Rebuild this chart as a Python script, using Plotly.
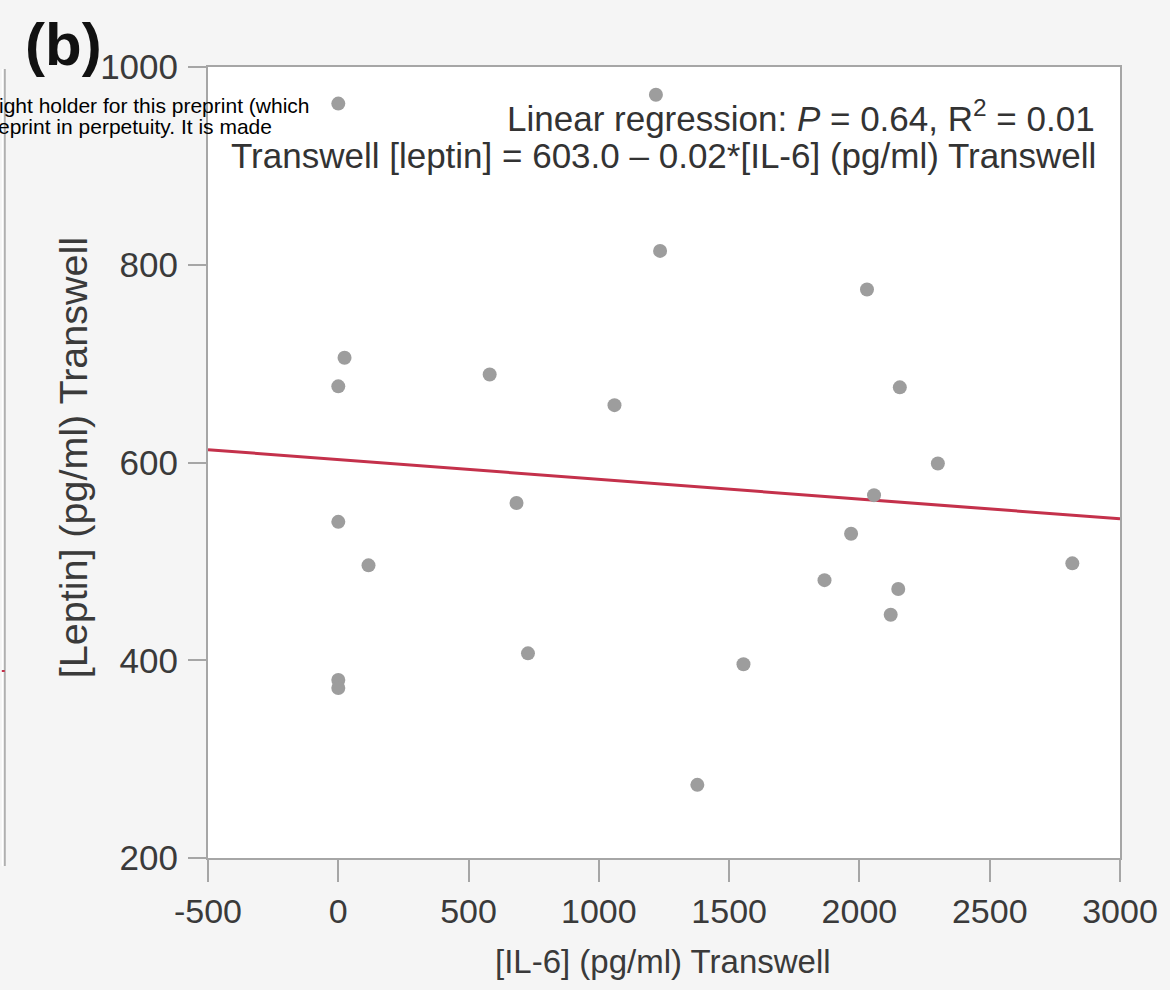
import plotly.graph_objects as go

# ---- data ----
il6 = [0, 1219, 24, 0, 581, 1235, 2029, 1060, 2155, 2301, 684, 2056,
       0, 116, 1968, 1866, 2817, 2149, 2120, 728, 1555, 0, 0, 1378]
leptin = [963, 972, 706, 677, 689, 814, 775, 658, 676, 599, 559, 567,
          540, 496, 528, 481, 498, 472, 446, 407, 396, 380, 372, 274]
fit_intercept = 603.0
fit_slope = -0.02
fit_x = [-500, 3000]
x_ticks = [-500, 0, 500, 1000, 1500, 2000, 2500, 3000]
y_ticks = [200, 400, 600, 800, 1000]

W, H = 1170, 990
L, R, T, B = 208, 1128, 67, 858


def px(x):
    return (x - L) / (R - L)


def py(y):
    return (B - y) / (B - T)


fig = go.Figure()
fig.add_trace(go.Scatter(
    x=fit_x, y=[fit_intercept + fit_slope * v for v in fit_x],
    mode="lines", line=dict(color="#c4314b", width=3), showlegend=False,
    hoverinfo="skip"))
fig.add_trace(go.Scatter(
    x=il6, y=leptin, mode="markers",
    marker=dict(color="#9d9d9d", size=14), showlegend=False))

axis_common = dict(showline=True, mirror=True, linecolor="#a6a6a6", linewidth=2,
                   ticks="outside", tickcolor="#a6a6a6", tickwidth=2,
                   showgrid=False, zeroline=False)

fig.update_xaxes(range=[-500, 3000], tickvals=x_ticks,
                 ticktext=[str(v) for v in x_ticks], ticklen=22,
                 tickfont=dict(family="Liberation Sans, Arial", size=34, color="#3a3a3a"),
                 **axis_common)
fig.update_yaxes(range=[200, 1000], tickvals=y_ticks,
                 ticktext=[str(v) for v in y_ticks], ticklen=18,
                 ticklabelstandoff=3,
                 tickfont=dict(family="Liberation Sans, Arial", size=35, color="#3a3a3a"),
                 **axis_common)

ann = []
ann.append(dict(text="Linear regression: <i>P</i> = 0.64, R<sup>2</sup> = 0.01",
                x=px(1105), y=py(116), xref="paper", yref="paper",
                xanchor="right", yanchor="middle", showarrow=False,
                font=dict(family="Liberation Sans, Arial", size=35, color="#333333")))
ann.append(dict(text="Transwell [leptin] = 603.0 \u2013 0.02*[IL-6] (pg/ml) Transwell",
                x=px(1106), y=py(156), xref="paper", yref="paper",
                xanchor="right", yanchor="middle", showarrow=False,
                font=dict(family="Liberation Sans, Arial", size=35, color="#333333")))
ann.append(dict(text="[IL-6] (pg/ml) Transwell",
                x=px(667), y=py(961), xref="paper", yref="paper",
                xanchor="center", yanchor="middle", showarrow=False,
                font=dict(family="Liberation Sans, Arial", size=33, color="#3a3a3a")))
ann.append(dict(text="[Leptin] (pg/ml) Transwell", textangle=-90,
                x=px(72), y=py(458), xref="paper", yref="paper",
                xanchor="center", yanchor="middle", showarrow=False,
                font=dict(family="Liberation Sans, Arial", size=39.5, color="#3a3a3a")))
ann.append(dict(text="<b>(b)</b>",
                x=px(62), y=py(44), xref="paper", yref="paper",
                xanchor="center", yanchor="middle", showarrow=False,
                font=dict(family="Liberation Sans, Arial", size=60, color="#111111")))
ann.append(dict(text="ight holder for this preprint (which",
                x=px(312), y=py(105), xref="paper", yref="paper",
                xanchor="right", yanchor="middle", showarrow=False,
                font=dict(family="Liberation Sans, Arial", size=21, color="#000000")))
ann.append(dict(text="eprint in perpetuity. It is made",
                x=px(275), y=py(126), xref="paper", yref="paper",
                xanchor="right", yanchor="middle", showarrow=False,
                font=dict(family="Liberation Sans, Arial", size=21, color="#000000")))

shapes = [
    dict(type="rect", xref="paper", yref="paper", x0=px(0), x1=px(3),
         y0=py(69), y1=py(866), fillcolor="#ffffff", line=dict(width=0), layer="below"),
    dict(type="line", xref="paper", yref="paper", x0=px(3), x1=px(3),
         y0=py(69), y1=py(866), line=dict(color="#b0b0b0", width=2), layer="below"),
    dict(type="line", xref="paper", yref="paper", x0=px(0), x1=px(3),
         y0=py(671), y1=py(671), line=dict(color="#c4314b", width=2)),
]

fig.update_layout(
    width=W, height=H, autosize=False,
    margin=dict(l=L, r=W - R, t=T, b=H - B, pad=0),
    paper_bgcolor="#f5f5f5", plot_bgcolor="#ffffff",
    annotations=ann, shapes=shapes, showlegend=False,
)

fig.write_html(
    "out.html",
    config={"displayModeBar": False, "staticPlot": True},
    post_script="document.body.style.margin='0';document.body.style.overflow='hidden';",
)
